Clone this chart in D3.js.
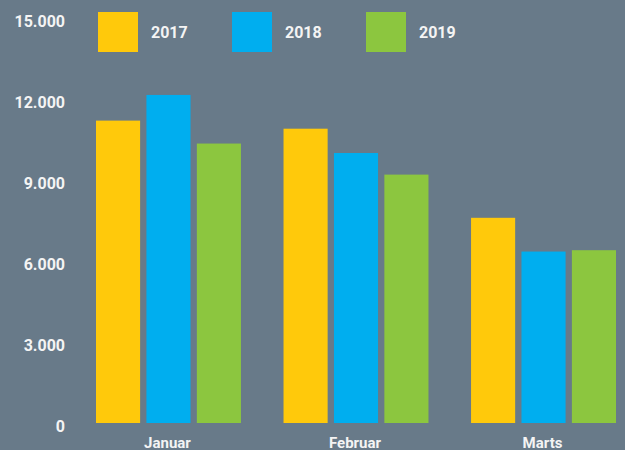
<!DOCTYPE html>
<html>
<head>
<meta charset="utf-8">
<script src="https://cdn.jsdelivr.net/npm/d3@7"></script>
<style>
    body { margin: 0; background: #687a89; }
    #chart { width: 625px; height: 450px; }
    text { font-family: Roboto, "DejaVu Sans", sans-serif; font-weight: 700; fill: #f4f4f4; }
</style>
</head>
<body>
<div id="chart"></div>
<script>
    // chart data
    let months = ["Januar", "Februar", "Marts"];
    let years = ["2017", "2018", "2019"];
    let values2017 = [11200, 10900, 7600];
    let values2018 = [12150, 10000, 6350];
    let values2019 = [10350, 9200, 6400];
    let yTicks = [0, 3000, 6000, 9000, 12000, 15000];
    let colors = ["#ffc90b", "#00aeef", "#8cc63f"];

    let series = [values2017, values2018, values2019];
    let rows = [];
    months.forEach((m, i) => {
        years.forEach((y, j) => {
            rows.push({month: m, year: y, value: series[j][i]});
        });
    });

    let width = 625, height = 450;

    let svg = d3.select("#chart").append("svg")
        .attr("width", width)
        .attr("height", height);

    svg.append("rect")
        .attr("width", width)
        .attr("height", height)
        .attr("fill", "#687a89");

    let x0 = d3.scaleBand()
        .domain(months)
        .range([96, 616])
        .paddingInner(0.227)
        .paddingOuter(0);

    let x1 = d3.scaleBand()
        .domain(years)
        .range([0, x0.bandwidth()])
        .paddingInner(0.125);

    let y = d3.scaleLinear()
        .domain([0, 15000])
        .range([423, 18]);

    let color = d3.scaleOrdinal()
        .domain(years)
        .range(colors);

    // y axis labels
    let yAxis = d3.axisLeft(y)
        .tickValues(yTicks)
        .tickSize(0)
        .tickPadding(0)
        .tickFormat(d => d3.format(",")(d).replace(/,/g, "."));

    let yAxisGroup = svg.append("g")
        .attr("class", "y-axis axis")
        .attr("transform", "translate(65, 3)")
        .call(yAxis);
    yAxisGroup.select(".domain").remove();
    yAxisGroup.selectAll("text")
        .style("font-size", "16px")
        .attr("fill", "#f4f4f4");

    // x axis labels
    let xAxis = d3.axisBottom(x0)
        .tickSize(0)
        .tickPadding(0);

    let xAxisGroup = svg.append("g")
        .attr("class", "x-axis axis")
        .attr("transform", "translate(-1, 437)")
        .call(xAxis);
    xAxisGroup.select(".domain").remove();
    xAxisGroup.selectAll("text")
        .style("font-size", "15px")
        .attr("fill", "#f4f4f4");

    // bars
    svg.append("g").selectAll("rect")
        .data(rows)
        .enter().append("rect")
        .attr("x", d => x0(d.month) + x1(d.year))
        .attr("y", d => y(d.value))
        .attr("width", x1.bandwidth())
        .attr("height", d => y(0) - y(d.value))
        .attr("fill", d => color(d.year));

    // legend
    let legend = svg.append("g")
        .attr("transform", "translate(98, 12)");

    let item = legend.selectAll("g")
        .data(years)
        .enter().append("g")
        .attr("transform", (d, i) => `translate(${i * 134}, 0)`);

    item.append("rect")
        .attr("width", 40)
        .attr("height", 40)
        .attr("fill", d => color(d));

    item.append("text")
        .attr("x", 53)
        .attr("y", 20)
        .attr("dy", "0.35em")
        .style("font-size", "16px")
        .text(d => d);
</script>
</body>
</html>
